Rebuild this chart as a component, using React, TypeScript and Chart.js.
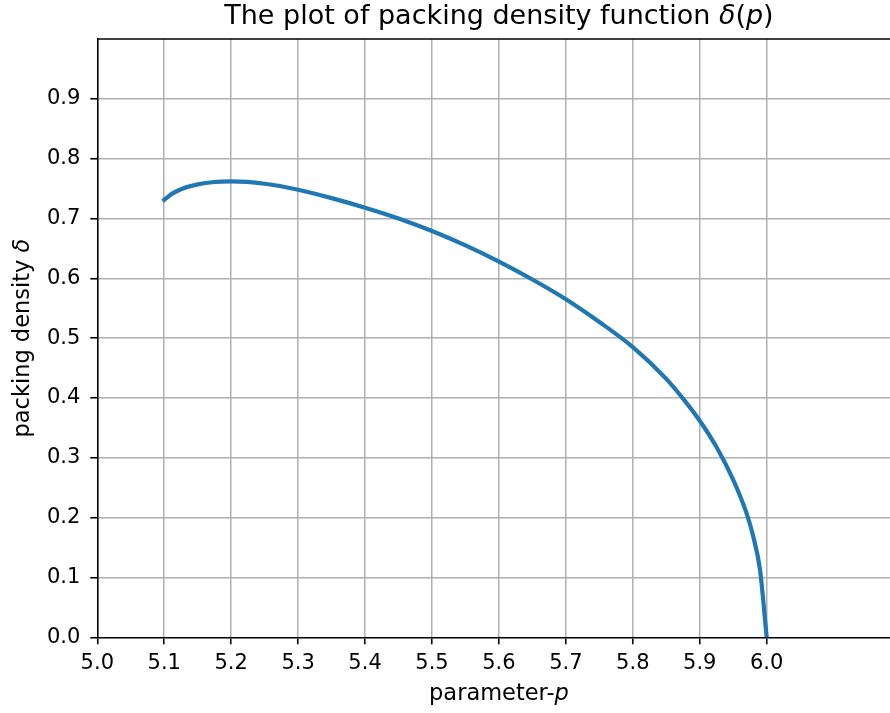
import { useEffect, useRef } from 'react'
import { Chart, registerables } from 'chart.js'

// on enregistre tout ce que chart.js propose
Chart.register(...registerables)

// valeurs (parametre p -> densite)
const pValues = [5.1, 5.1125, 5.125, 5.15, 5.175, 5.2, 5.25, 5.3, 5.35, 5.4, 5.45, 5.5, 5.55, 5.6, 5.65, 5.7, 5.75, 5.8, 5.85, 5.875, 5.9, 5.925, 5.95, 5.97, 5.98, 5.99, 6.0]
const densityValues = [0.731, 0.742, 0.749, 0.757, 0.761, 0.762, 0.758, 0.748, 0.734, 0.718, 0.7, 0.679, 0.655, 0.628, 0.598, 0.565, 0.527, 0.485, 0.432, 0.399, 0.362, 0.318, 0.263, 0.207, 0.168, 0.113, 0]

// graduations des axes
const xTicks = [5.0, 5.1, 5.2, 5.3, 5.4, 5.5, 5.6, 5.7, 5.8, 5.9, 6.0]
const yTicks = [0, 0.1, 0.2, 0.3, 0.4, 0.5, 0.6, 0.7, 0.8, 0.9]

// textes avec morceaux en italique (comme le mathtext)
type Part = { text: string; italic: boolean }
const titleParts: Part[] = [
    { text: 'The plot of packing density function ', italic: false },
    { text: 'δ', italic: true },
    { text: '(', italic: false },
    { text: 'p', italic: true },
    { text: ')', italic: false },
]
const xLabelParts: Part[] = [
    { text: 'parameter-', italic: false },
    { text: 'p', italic: true },
]
const yLabelParts: Part[] = [
    { text: 'packing density ', italic: false },
    { text: 'δ', italic: true },
]

const FONT = '"DejaVu Sans", sans-serif'
const GRID = '#b0b0b0'

// dessine un texte centre fait de plusieurs morceaux
function drawParts(ctx: CanvasRenderingContext2D, parts: Part[], x: number, y: number, size: number) {
    let total = 0
    const widths = parts.map(p => {
        ctx.font = `${p.italic ? 'italic ' : ''}${size}px ${FONT}`
        const w = ctx.measureText(p.text).width
        total += w
        return w
    })
    let cx = x - total / 2
    ctx.textAlign = 'left'
    ctx.textBaseline = 'alphabetic'
    parts.forEach((p, i) => {
        ctx.font = `${p.italic ? 'italic ' : ''}${size}px ${FONT}`
        ctx.fillText(p.text, cx, y)
        cx += widths[i]
    })
}

// plugin pour le titre, les labels d'axes et le bord du haut
const labelsPlugin = {
    id: 'mplLabels',
    afterDraw(chart: Chart) {
        const { ctx, chartArea, scales } = chart
        const midX = scales.x.getPixelForValue(5.6)
        ctx.save()
        ctx.fillStyle = '#000'
        drawParts(ctx, titleParts, midX, 23.5, 27)
        drawParts(ctx, xLabelParts, midX, 700, 22.5)
        ctx.translate(29, (chartArea.top + chartArea.bottom) / 2)
        ctx.rotate(-Math.PI / 2)
        drawParts(ctx, yLabelParts, 0, 0, 22.5)
        ctx.restore()

        // bord du haut
        ctx.save()
        ctx.strokeStyle = '#000'
        ctx.lineWidth = 1.6
        ctx.beginPath()
        ctx.moveTo(chartArea.left, chartArea.top)
        ctx.lineTo(chartArea.right, chartArea.top)
        ctx.stroke()
        ctx.restore()
    },
}

function App() {
    const canvasRef = useRef<HTMLCanvasElement>(null)
    const chartRef = useRef<Chart | null>(null)

    useEffect(() => {
        if (!canvasRef.current) return
        if (chartRef.current) {
            chartRef.current.destroy()
            chartRef.current = null
        }

        Chart.defaults.color = '#000'
        Chart.defaults.font.family = FONT

        chartRef.current = new Chart(canvasRef.current, {
            type: 'line',
            data: {
                datasets: [{
                    data: pValues.map((p, i) => ({ x: p, y: densityValues[i] })),
                    borderColor: '#1f77b4',
                    borderWidth: 4.2,
                    pointRadius: 0,
                    fill: false,
                    cubicInterpolationMode: 'monotone',
                    borderCapStyle: 'square',
                    borderJoinStyle: 'round',
                }],
            },
            options: {
                animation: false,
                responsive: false,
                events: [],
                layout: { padding: { top: 39, right: 0, bottom: 0, left: 0 } },
                plugins: {
                    legend: { display: false },
                    tooltip: { enabled: false },
                },
                scales: {
                    x: {
                        type: 'linear',
                        min: 5.0,
                        max: 6.1842,
                        afterBuildTicks: (s: any) => { s.ticks = xTicks.map(v => ({ value: v })) },
                        afterFit: (s: any) => { s.height = 75.7 },
                        grid: {
                            color: (c: any) => (c.tick && Math.abs(c.tick.value - 5.0) < 1e-9 ? 'rgba(0,0,0,0)' : GRID),
                            lineWidth: 1.5,
                            tickLength: 7,
                            tickColor: '#000',
                            tickWidth: 1.6,
                        },
                        border: { color: '#000', width: 1.6 },
                        ticks: {
                            font: { size: 21, family: FONT },
                            color: '#000',
                            padding: 7,
                            maxRotation: 0,
                            autoSkip: false,
                            callback: (v: any) => Number(v).toFixed(1),
                        },
                    },
                    y: {
                        type: 'linear',
                        min: 0,
                        max: 1.0,
                        afterBuildTicks: (s: any) => { s.ticks = yTicks.map(v => ({ value: v })) },
                        afterFit: (s: any) => { s.width = 97.3 },
                        grid: {
                            color: (c: any) => (c.tick && Math.abs(c.tick.value) < 1e-9 ? 'rgba(0,0,0,0)' : GRID),
                            lineWidth: 1.5,
                            tickLength: 7,
                            tickColor: '#000',
                            tickWidth: 1.6,
                        },
                        border: { color: '#000', width: 1.6 },
                        ticks: {
                            font: { size: 21, family: FONT },
                            color: '#000',
                            padding: 10,
                            autoSkip: false,
                            callback: (v: any) => Number(v).toFixed(1),
                        },
                    },
                },
            },
            plugins: [labelsPlugin],
        })

        return () => {
            if (chartRef.current) {
                chartRef.current.destroy()
                chartRef.current = null
            }
        }
    }, [])

    return (
        <div style={{ position: 'absolute', left: 0, top: 0, width: 890, height: 713, background: '#fff' }}>
            <canvas ref={canvasRef} width={890} height={713}></canvas>
        </div>
    )
}

export default App
